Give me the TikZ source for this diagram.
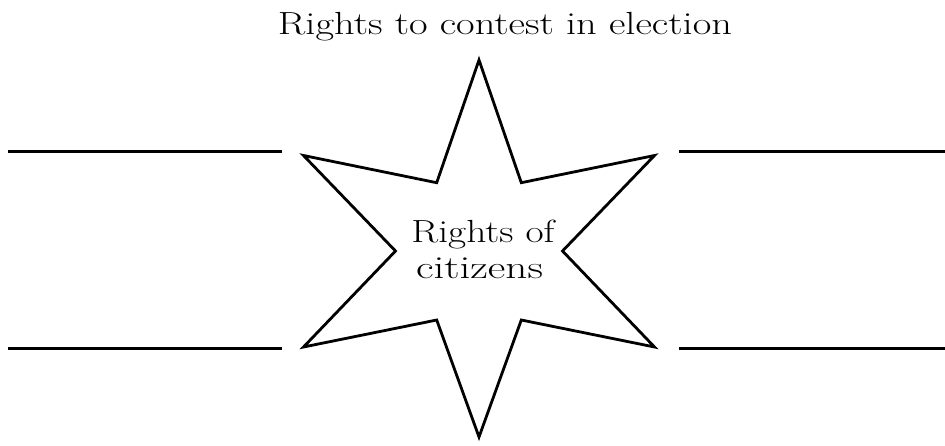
\documentclass[tikz,border=0pt]{standalone}
\usepackage{graphicx}
\begin{document}
\begin{tikzpicture}[x=1pt,y=-1pt,
  rule/.style={line width=3pt},
  starline/.style={line width=2.8pt, line join=miter},
  lbl/.style={inner sep=0pt, anchor=base}]
\useasboundingbox (0,0) rectangle (945,445);
% star
\draw[starline] (479,60) -- (521.3,182.7) -- (654.5,155.5) -- (562.5,251)
  -- (654.5,347) -- (521.3,320) -- (479,437) -- (436.7,320) -- (303.5,347)
  -- (395.5,251) -- (303.5,155.5) -- (436.7,182.7) -- cycle;
% blank answer lines
\coordinate (l1a) at (8,151);   \coordinate (l1b) at (282,151);
\coordinate (l2a) at (8,348.7); \coordinate (l2b) at (282,348.7);
\coordinate (r1a) at (679,151);   \coordinate (r1b) at (945,151);
\coordinate (r2a) at (679,348.7); \coordinate (r2b) at (945,348.7);
\draw[rule] (l1a) -- (l1b);
\draw[rule] (l2a) -- (l2b);
\draw[rule] (r1a) -- (r1b);
\draw[rule] (r2a) -- (r2b);
% texts
\node[lbl] (title) at (505,34) {\resizebox{454pt}{\height}{\fontsize{32}{38}\selectfont Rights to contest in election}};
\node[lbl] (c1) at (483,242) {\resizebox{143pt}{\height}{\fontsize{32}{38}\selectfont Rights of}};
\node[lbl] (c2) at (479.5,278.5) {\resizebox{127pt}{\height}{\fontsize{32}{38}\selectfont citizens}};
\end{tikzpicture}
\end{document}
